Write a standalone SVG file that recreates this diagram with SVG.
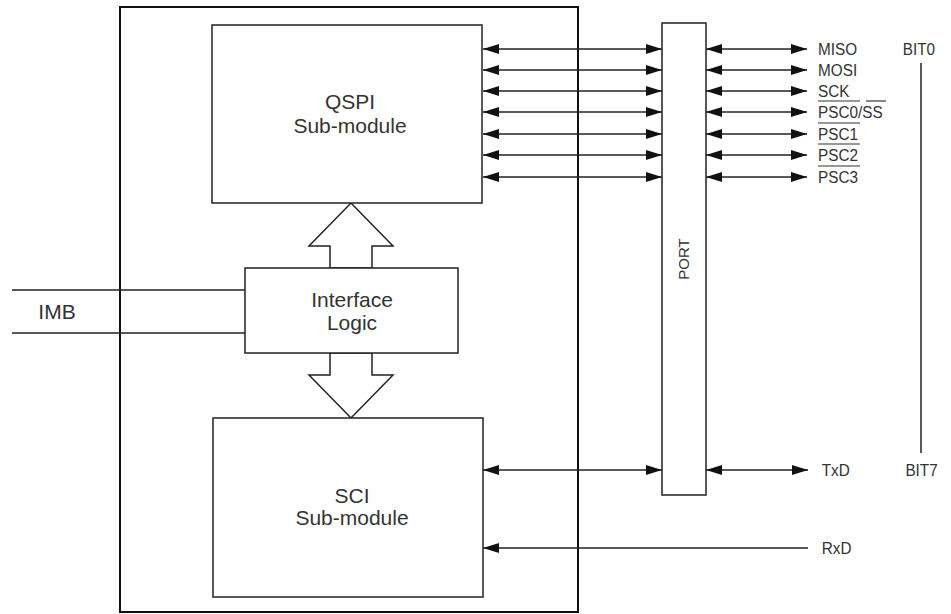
<svg xmlns="http://www.w3.org/2000/svg" width="951" height="614" viewBox="0 0 951 614">
<style>
.box{fill:#fff;stroke:#222;stroke-width:1.5}
.outer{fill:none;stroke:#111;stroke-width:2}
.ln{stroke:#222;stroke-width:1.5;fill:none}
.arr{stroke:#222;stroke-width:1.5;fill:none;marker-start:url(#ah);marker-end:url(#ah)}
.arr1{stroke:#222;stroke-width:1.5;fill:none;marker-end:url(#ah)}
.big{font-family:"Liberation Sans",Arial,sans-serif;font-size:21px;fill:#333;text-anchor:middle}
.sm{font-family:"Liberation Sans",Arial,sans-serif;font-size:17px;fill:#333}
.ov{stroke:#333;stroke-width:1.2}
</style>
<defs>
<marker id="ah" markerUnits="userSpaceOnUse" markerWidth="17" markerHeight="11" refX="16" refY="5" orient="auto-start-reverse">
<path d="M0,0 L16,5 L0,10 z" fill="#111"/>
</marker>
</defs>
<rect width="951" height="614" fill="#fff"/>
<g id="outer"><rect class="outer" x="120" y="7" width="458" height="605"/></g>
<g id="connectors">
<line class="ln" x1="12" y1="290" x2="245" y2="290"/>
<line class="ln" x1="12" y1="333" x2="245" y2="333"/>
<polygon class="box" points="330,268 330,246 309,246 351,203 393,246 372,246 372,268"/>
<polygon class="box" points="330,353 330,375 309,375 351,418 393,375 372,375 372,353"/>
<line class="arr" x1="483" y1="49" x2="662" y2="49"/>
<line class="arr" x1="483" y1="70" x2="662" y2="70"/>
<line class="arr" x1="483" y1="91" x2="662" y2="91"/>
<line class="arr" x1="483" y1="112" x2="662" y2="112"/>
<line class="arr" x1="483" y1="134" x2="662" y2="134"/>
<line class="arr" x1="483" y1="155" x2="662" y2="155"/>
<line class="arr" x1="483" y1="177" x2="662" y2="177"/>
<line class="arr" x1="706" y1="49" x2="807" y2="49"/>
<line class="arr" x1="706" y1="70" x2="807" y2="70"/>
<line class="arr" x1="706" y1="91" x2="807" y2="91"/>
<line class="arr" x1="706" y1="112" x2="807" y2="112"/>
<line class="arr" x1="706" y1="134" x2="807" y2="134"/>
<line class="arr" x1="706" y1="155" x2="807" y2="155"/>
<line class="arr" x1="706" y1="177" x2="807" y2="177"/>
<line class="arr" x1="483" y1="470" x2="662" y2="470"/>
<line class="arr" x1="706" y1="470" x2="808" y2="470"/>
<line class="arr1" x1="808" y1="548" x2="483" y2="548"/>
<line class="ln" x1="921" y1="63" x2="921" y2="453"/>
</g>
<g id="qspi"><rect class="box" x="212" y="25" width="270" height="178"/>
<text class="big" x="350" y="109">QSPI</text><text class="big" x="350" y="133">Sub-module</text></g>
<g id="interface"><rect class="box" x="245" y="268" width="213" height="85"/>
<text class="big" x="352" y="307">Interface</text><text class="big" x="352" y="330">Logic</text></g>
<g id="sci"><rect class="box" x="213" y="418" width="270" height="179"/>
<text class="big" x="352" y="503">SCI</text><text class="big" x="352" y="525">Sub-module</text></g>
<g id="port"><rect class="box" x="662" y="23" width="44" height="472"/>
<text class="sm" style="font-size:15px;text-anchor:middle" transform="translate(689,259) rotate(-90)">PORT</text></g>
<g id="imb"><text class="big" x="57" y="319">IMB</text></g>
<g id="labels">
<g transform="scale(0.9,1)">
<text class="sm" x="909" y="55">MISO</text>
<text class="sm" x="909" y="76">MOSI</text>
<text class="sm" x="909" y="97">SCK</text>
<text class="sm" x="909" y="118">PSC0/SS</text>
<text class="sm" x="909" y="140">PSC1</text>
<text class="sm" x="909" y="161">PSC2</text>
<text class="sm" x="909" y="183">PSC3</text>
<text class="sm" x="1003" y="55">BIT0</text>
<text class="sm" x="913" y="476">TxD</text>
<text class="sm" x="1006" y="476">BIT7</text>
<text class="sm" x="913" y="554">RxD</text>
</g>
<line class="ov" x1="818" y1="101" x2="860" y2="101"/>
<line class="ov" x1="866" y1="101" x2="886" y2="101"/>
<line class="ov" x1="818" y1="123" x2="860" y2="123"/>
<line class="ov" x1="818" y1="144" x2="860" y2="144"/>
<line class="ov" x1="818" y1="166" x2="860" y2="166"/>
</g>
</svg>
